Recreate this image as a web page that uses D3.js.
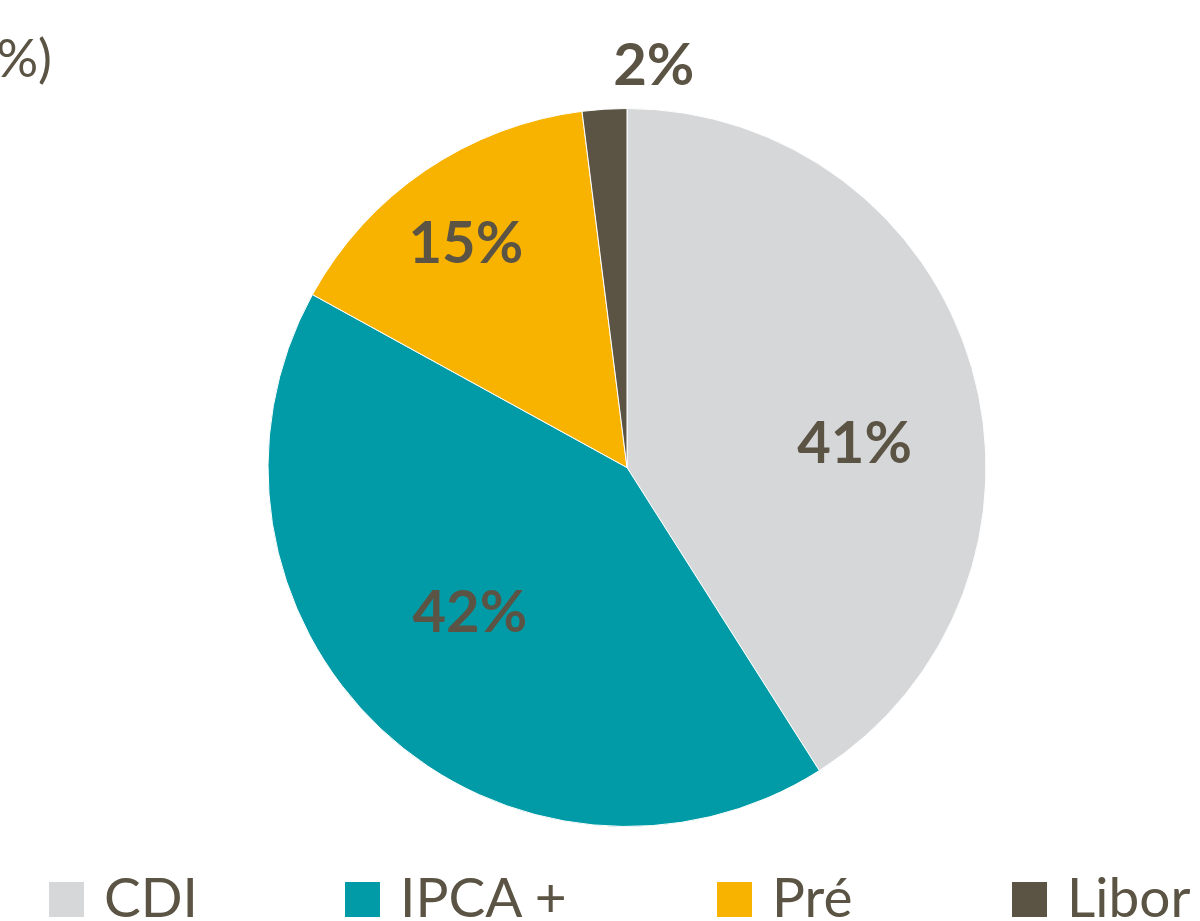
<!DOCTYPE html>
<html>
<head>
<meta charset="utf-8">
<script src="https://cdn.jsdelivr.net/npm/d3@7"></script>
<style>
  html, body { margin: 0; padding: 0; background: #ffffff; }
  svg { display: block; }
</style>
</head>
<body>
<svg id="chart" width="1200" height="921"></svg>
<script>
// Share of debt by index (%)
const categories = ["CDI", "IPCA +", "Pré", "Libor"];
const shares = [41, 42, 15, 2];
const colors = ["#D6D7D9", "#009BA7", "#F8B300", "#5B5444"];

const textColor = "#5B5444";
const W = 1200, H = 921;
const cx = 627, cy = 467.5, R = 359;

const svg = d3.select("#chart");

// Title (left part runs past the edge of the page)
svg.append("text")
  .attr("x", 52).attr("y", 77)
  .attr("text-anchor", "end")
  .attr("font-family", "Lato, 'Open Sans', sans-serif")
  .attr("font-size", 52)
  .attr("fill", textColor)
  .text("Indexadores da dívida (%)");

const pie = d3.pie().sort(null).value(d => d)
  .startAngle(0).endAngle(2 * Math.PI);
const arcs = pie(shares);

const arc = d3.arc().innerRadius(0).outerRadius(R);
const labelArc = d3.arc().innerRadius(R * 0.66).outerRadius(R * 0.66);
const outerLabelArc = d3.arc().innerRadius(R * 1.12).outerRadius(R * 1.12);

const g = svg.append("g").attr("transform", `translate(${cx},${cy})`);

g.selectAll("path.slice")
  .data(arcs)
  .join("path")
  .attr("class", "slice")
  .attr("d", arc)
  .attr("fill", (d, i) => colors[i])
  .attr("stroke", "#ffffff")
  .attr("stroke-width", 1);

// Data label nudges (px) relative to the label arc
const labelNudge = [[0, 39], [5, -31], [-28, -31], [52, -4]];

g.selectAll("text.value")
  .data(arcs)
  .join("text")
  .attr("class", "value")
  .attr("transform", (d, i) => {
    const p = (d.data < 5 ? outerLabelArc : labelArc).centroid(d);
    return `translate(${p[0] + labelNudge[i][0]},${p[1] + labelNudge[i][1]})`;
  })
  .attr("text-anchor", "middle")
  .attr("dominant-baseline", "central")
  .attr("font-family", "Lato, 'Open Sans', sans-serif")
  .attr("font-weight", "bold")
  .attr("font-size", 58)
  .attr("fill", textColor)
  .text(d => d.data + "%");

// Legend along the bottom
const legendX = [49, 345, 717, 1012];
const sq = 35, gapText = 20, baseY = 917;
const legend = svg.append("g").attr("class", "legend");
categories.forEach((c, i) => {
  legend.append("rect")
    .attr("x", legendX[i]).attr("y", baseY - sq)
    .attr("width", sq).attr("height", sq)
    .attr("fill", colors[i]);
  legend.append("text")
    .attr("x", legendX[i] + sq + gapText).attr("y", baseY)
    .attr("font-family", "Lato, 'Open Sans', sans-serif")
    .attr("font-size", 55)
    .attr("fill", textColor)
    .text(c);
});
</script>
</body>
</html>
